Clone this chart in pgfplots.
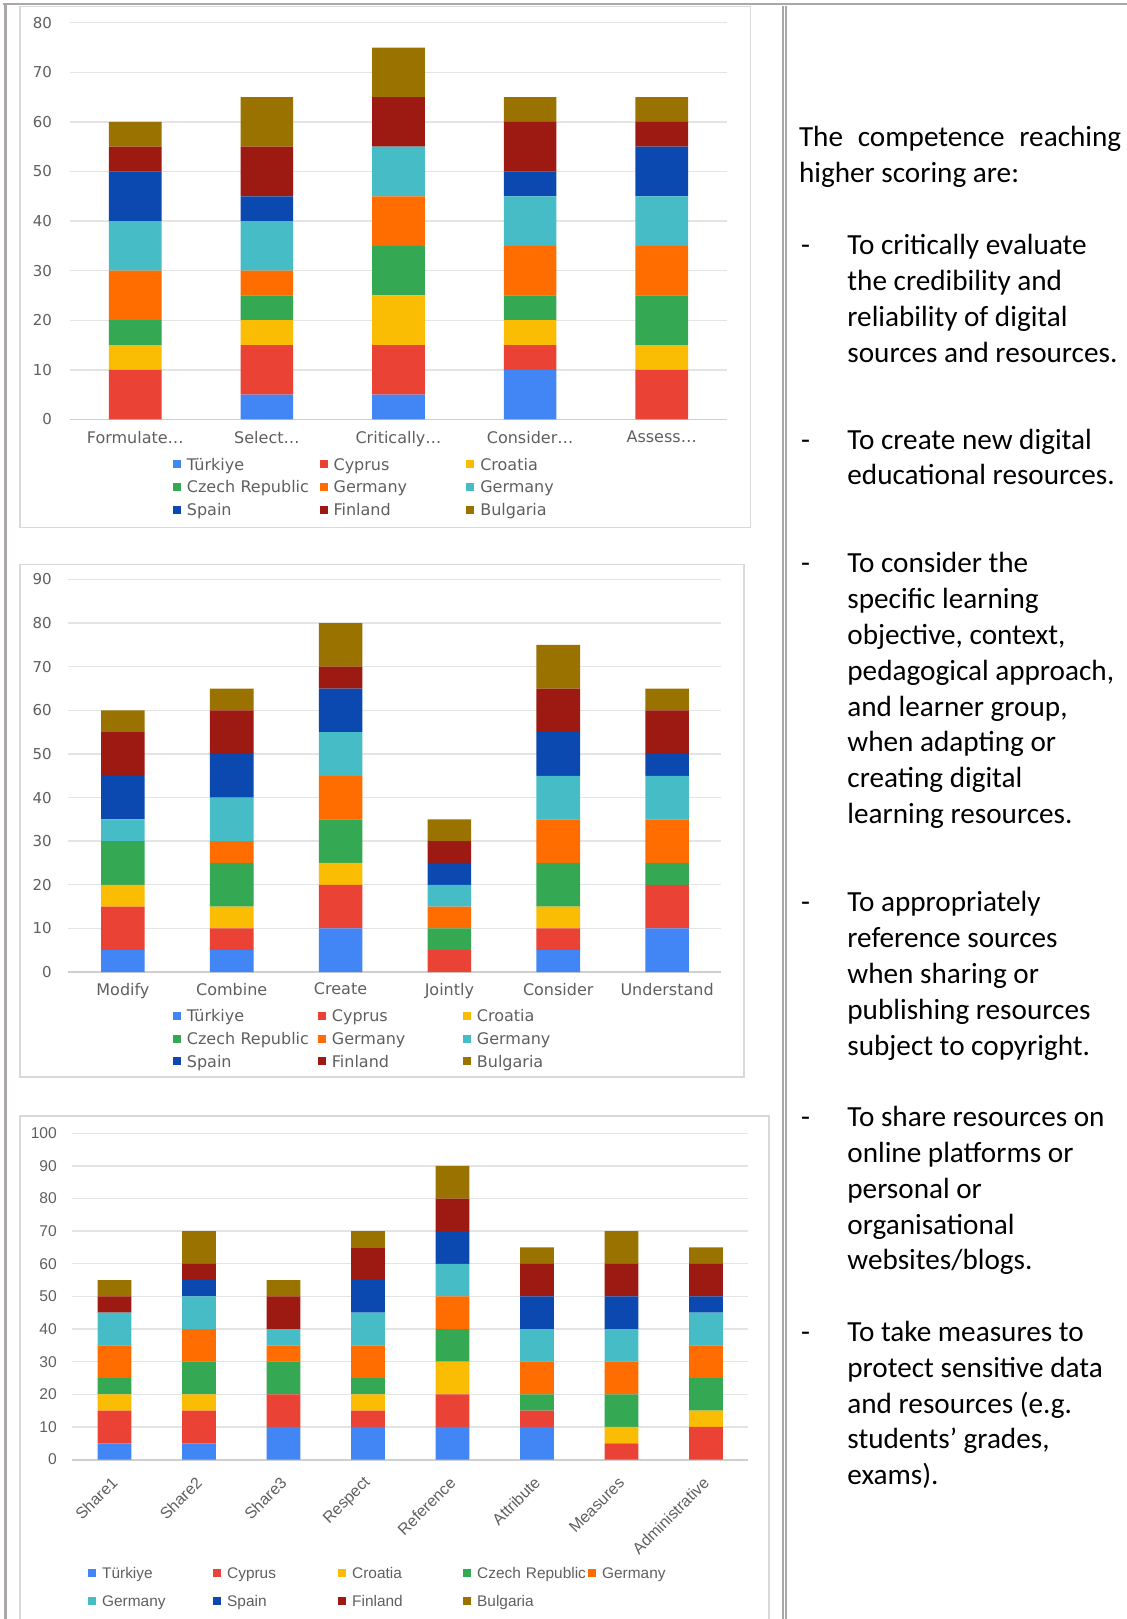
\documentclass[border=0pt]{standalone}
\usepackage{fontspec}
\setmainfont{Carlito}
\newfontfamily\dv{DejaVu Sans}
\newfontfamily\lib{Liberation Sans}
\usepackage{pgfplots}
\usepackage{pgfplotstable}
\pgfplotsset{compat=1.18}

\definecolor{tur}{HTML}{4285F4}
\definecolor{cyp}{HTML}{EA4335}
\definecolor{cro}{HTML}{FBBC04}
\definecolor{cze}{HTML}{34A853}
\definecolor{geo}{HTML}{FF6D01}
\definecolor{get}{HTML}{46BDC6}
\definecolor{spa}{HTML}{0B49B0}
\definecolor{fin}{HTML}{9C1A12}
\definecolor{bul}{HTML}{9A7200}
\definecolor{txt}{HTML}{5F5F5F}
\definecolor{grd}{HTML}{E4E4E4}
\definecolor{basel}{HTML}{CFCFCF}
\definecolor{frm}{HTML}{ABA7A9}
\definecolor{boxc}{HTML}{D9D9D9}

\pgfplotstableread{
x T Cy Cr Cz Ge Gt Sp Fi Bu
0 0 10 5 5 10 10 10 5 5
1 5 10 5 5 5 10 5 10 10
2 5 10 10 10 10 10 0 10 10
3 10 5 5 5 10 10 5 10 5
4 0 10 5 10 10 10 10 5 5
}\tA

\pgfplotstableread{
x T Cy Cr Cz Ge Gt Sp Fi Bu
0 5 10 5 10 0 5 10 10 5
1 5 5 5 10 5 10 10 10 5
2 10 10 5 10 10 10 10 5 10
3 0 5 0 5 5 5 5 5 5
4 5 5 5 10 10 10 10 10 10
5 10 10 0 5 10 10 5 10 5
}\tB

\pgfplotstableread{
x T Cy Cr Cz Ge Gt Sp Fi Bu
0 5 10 5 5 10 10 0 5 5
1 5 10 5 10 10 10 5 5 10
2 10 10 0 10 5 5 0 10 5
3 10 5 5 5 10 10 10 10 5
4 10 10 10 10 10 10 10 10 10
5 10 5 0 5 10 10 10 10 5
6 0 5 5 10 10 10 10 10 10
7 0 10 5 10 10 10 5 10 5
}\tC

\newcommand\bars[1]{%
 \addplot[fill=tur,draw=none] table[x=x,y=T]{#1};
 \addplot[fill=cyp,draw=none] table[x=x,y=Cy]{#1};
 \addplot[fill=cro,draw=none] table[x=x,y=Cr]{#1};
 \addplot[fill=cze,draw=none] table[x=x,y=Cz]{#1};
 \addplot[fill=geo,draw=none] table[x=x,y=Ge]{#1};
 \addplot[fill=get,draw=none] table[x=x,y=Gt]{#1};
 \addplot[fill=spa,draw=none] table[x=x,y=Sp]{#1};
 \addplot[fill=fin,draw=none] table[x=x,y=Fi]{#1};
 \addplot[fill=bul,draw=none] table[x=x,y=Bu]{#1};
 \legend{\mbox{Türkiye},\mbox{Cyprus},\mbox{Croatia},\mbox{Czech Republic},\mbox{Germany},\mbox{Germany},\mbox{Spain},\mbox{Finland},\mbox{Bulgaria}}
}

\pgfplotsset{
 gchart/.style={
  scale only axis, anchor=south west,
  ybar stacked, bar width=0.4,
  enlargelimits=false, ymin=0,
  axis line style={draw=none},
  major tick length=0pt,
  ymajorgrids, major grid style={draw=grd, line width=0.7pt},
  extra y ticks={0}, extra y tick labels={},
  extra y tick style={major grid style={draw=basel, line width=0.9pt}},
  /pgf/number format/assume math mode=true,
  tick label style={text=txt},
  legend cell align=left,
  legend image code/.code={\fill[##1] (0pt,-1.4pt) rectangle (4pt,2.6pt); \path (7pt,0pt);},
 },
}

\newcommand\rtf{\fontsize{14.6}{17.9}\selectfont}
\newcommand\tl[3]{\node[anchor=base west,inner sep=0pt,font=\rtf] at (#1pt,-#2pt) {#3};}

\begin{document}
\begin{tikzpicture}
\useasboundingbox (0,0) rectangle (563.5pt,-809.5pt);

% ---------- chart 1
\begin{axis}[gchart, at={(34.75pt,-209.7pt)}, width=329pt, height=198.35pt,
 xmin=-0.5, xmax=4.5, ymax=80, ytick={0,10,...,80},
 xtick={0,...,4}, xticklabels={Formulate…,Select…,Critically…,Consider…,Assess…},
 yticklabel style={font=\dv\fontsize{7.5}{9}\selectfont, xshift=-5.2pt},
 xticklabel style={font=\dv\fontsize{8}{10}\selectfont, yshift=-2.4pt},
 legend columns=3,
 legend style={at={(axis description cs:0,0)}, anchor=north west, xshift=51.5pt, yshift=-18.1pt,
   draw=none, fill=none, inner sep=0pt, row sep=1.85pt,
   nodes={font=\dv\fontsize{8}{10}\selectfont, text=txt, inner xsep=0pt, inner ysep=1pt,
          text height=6pt, text depth=1.5pt, text width=66.35pt}},
]
\bars{\tA}
\end{axis}

% ---------- chart 2
\begin{axis}[gchart, at={(34.25pt,-486pt)}, width=326.5pt, height=196.25pt,
 xmin=-0.5, xmax=5.5, ymax=90, ytick={0,10,...,90},
 xtick={0,...,5}, xticklabels={Modify,Combine,Create,Jointly,Consider,Understand},
 yticklabel style={font=\dv\fontsize{7.5}{9}\selectfont, xshift=-4.9pt},
 xticklabel style={font=\dv\fontsize{8}{10}\selectfont, yshift=-2pt},
 legend columns=3,
 legend style={at={(axis description cs:0,0)}, anchor=north west, xshift=52pt, yshift=-17.6pt,
   draw=none, fill=none, inner sep=0pt, row sep=1.85pt,
   nodes={font=\dv\fontsize{8}{10}\selectfont, text=txt, inner xsep=0pt, inner ysep=1pt,
          text height=6pt, text depth=1.5pt, text width=65.5pt}},
]
\bars{\tB}
\end{axis}

% ---------- chart 3
\begin{axis}[gchart, at={(36.15pt,-729.8pt)}, width=338pt, height=163.2pt,
 xmin=-0.5, xmax=7.5, ymax=100, ytick={0,10,...,100},
 xtick={0,...,7}, xticklabels={Share1,Share2,Share3,Respect,Reference,Attribute,Measures,Administrative},
 yticklabel style={font=\lib\fontsize{7.8}{9}\selectfont, xshift=-4.2pt},
 xticklabel style={font=\lib\fontsize{8}{10}\selectfont, xshift=2.5pt, yshift=-7.8pt, rotate=45, anchor=east},
 legend columns=5,
 legend style={at={(axis description cs:0,0)}, anchor=north west, xshift=7.75pt, yshift=-52.2pt,
   draw=none, fill=none, inner sep=0pt, row sep=4.4pt,
   nodes={font=\lib\fontsize{7.7}{10}\selectfont, text=txt, inner xsep=0pt, inner ysep=1pt,
          text height=6pt, text depth=1.5pt, text width=55.5pt}},
]
\bars{\tC}
\end{axis}

% ---------- frames
\draw[frm, line width=1pt] (1.5pt,-2.15pt) -- (563.5pt,-2.15pt);
\draw[frm, line width=1.75pt] (2.65pt,-1.65pt) -- (2.65pt,-809.5pt);
\draw[frm, line width=0.85pt] (391.4pt,-3pt) -- (391.4pt,-809.5pt);
\draw[frm, line width=0.85pt] (392.95pt,-3pt) -- (392.95pt,-809.5pt);
\draw[boxc, line width=0.75pt] (10pt,-3.35pt) rectangle (375.35pt,-263.85pt);
\draw[boxc, line width=0.75pt] (10pt,-282.15pt) rectangle (372pt,-538.5pt);
\draw[boxc, line width=0.75pt] (10pt,-809.5pt) -- (10pt,-558pt) -- (384.5pt,-558pt) -- (384.5pt,-809.5pt);

% ---------- right text
\node[anchor=base west,inner sep=0pt,font=\rtf] at (399.3pt,-73.1pt) {\makebox[161.1pt][s]{The competence reaching}};
\tl{399.3}{91.2}{higher scoring are:}
\tl{400.3}{127.4}{-}
\tl{423.5}{127.4}{To critically evaluate}
\tl{423.5}{145.3}{the credibility and}
\tl{423.5}{163.2}{reliability of digital}
\tl{423.5}{181.1}{sources and resources.}
\tl{400.3}{224.5}{-}
\tl{423.5}{224.5}{To create new digital}
\tl{423.5}{242.4}{educational resources.}
\tl{400.3}{286.4}{-}
\tl{423.5}{286.4}{To consider the}
\tl{423.5}{304.3}{specific learning}
\tl{423.5}{322.2}{objective, context,}
\tl{423.5}{340.1}{pedagogical approach,}
\tl{423.5}{358.0}{and learner group,}
\tl{423.5}{375.9}{when adapting or}
\tl{423.5}{393.8}{creating digital}
\tl{423.5}{411.7}{learning resources.}
\tl{400.3}{455.9}{-}
\tl{423.5}{455.9}{To appropriately}
\tl{423.5}{473.8}{reference sources}
\tl{423.5}{491.7}{when sharing or}
\tl{423.5}{509.6}{publishing resources}
\tl{423.5}{527.5}{subject to copyright.}
\tl{400.3}{563.3}{-}
\tl{423.5}{563.3}{To share resources on}
\tl{423.5}{581.2}{online platforms or}
\tl{423.5}{599.1}{personal or}
\tl{423.5}{617.0}{organisational}
\tl{423.5}{634.9}{websites/blogs.}
\tl{400.3}{670.7}{-}
\tl{423.5}{670.7}{To take measures to}
\tl{423.5}{688.6}{protect sensitive data}
\tl{423.5}{706.5}{and resources (e.g.}
\tl{423.5}{724.4}{students’ grades,}
\tl{423.5}{742.3}{exams).}
\end{tikzpicture}
\end{document}
